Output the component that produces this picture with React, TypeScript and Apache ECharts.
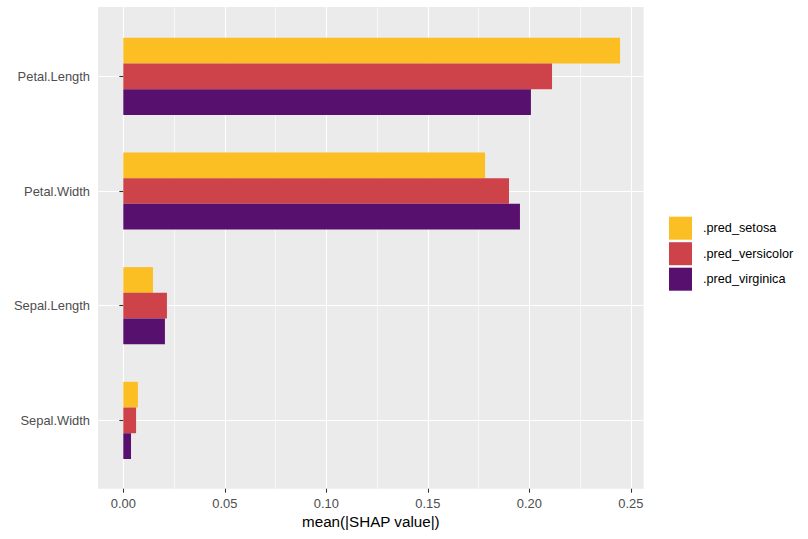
import React, { useEffect, useRef } from "react";
import * as echarts from "echarts";

const categories = ["Petal.Length", "Petal.Width", "Sepal.Length", "Sepal.Width"];
const seriesNames = [".pred_setosa", ".pred_versicolor", ".pred_virginica"];
const setosa = [0.2447, 0.1782, 0.0146, 0.0072];
const versicolor = [0.2112, 0.19, 0.0215, 0.0063];
const virginica = [0.2008, 0.1954, 0.0205, 0.0038];
const xTicks = [0, 0.05, 0.1, 0.15, 0.2, 0.25];
const colors = ["#FBBE23", "#CD4349", "#57106E"];

const FONT = "Liberation Sans, Arial, sans-serif";

export default function App() {
  const ref = useRef<HTMLDivElement>(null);
  useEffect(() => {
    document.body.style.margin = "0";
    const chart = echarts.init(ref.current!, null, { renderer: "svg" });
    const xMin = xTicks[0];
    const xMax = xTicks[xTicks.length - 1];
    const values = [setosa, versicolor, virginica];
    chart.setOption({
      animation: false,
      backgroundColor: "#FFFFFF",
      textStyle: { fontFamily: FONT },
      grid: [
        // panel background
        { left: 98, top: 7, width: 545.7, height: 481.7, show: true, backgroundColor: "#EBEBEB", borderWidth: 0 },
        // vertical gridlines + x labels
        { left: 123.3, top: 7, width: 507.5, height: 481.7 },
        // horizontal gridlines at category centres
        { left: 98, top: 76.3, width: 545.7, height: 344 },
        // bars
        { left: 123.3, top: 19, width: 507.5, height: 458.7 },
      ],
      xAxis: [
        {
          gridIndex: 0, type: "value", min: 0, max: 1,
          axisLine: { show: false }, axisTick: { show: false }, axisLabel: { show: false }, splitLine: { show: false },
          name: "mean(|SHAP value|)", nameLocation: "middle", nameGap: 25,
          nameTextStyle: { fontSize: 15.2, color: "#000000", fontFamily: FONT },
        },
        {
          gridIndex: 1, type: "value", min: xMin, max: xMax, interval: 0.05,
          axisLine: { show: false },
          axisTick: { show: true, length: 4, lineStyle: { color: "#333333", width: 1.07 } },
          axisLabel: {
            show: true, margin: 8, fontSize: 12.9, color: "#4D4D4D", fontFamily: FONT,
            formatter: (v: number) => v.toFixed(2),
          },
          splitLine: { show: true, lineStyle: { color: "#FFFFFF", width: 1.1 } },
          minorTick: { show: false, splitNumber: 2 },
          minorSplitLine: { show: true, lineStyle: { color: "#FFFFFF", width: 0.6 } },
        },
        {
          gridIndex: 2, type: "value", min: 0, max: 1, show: false,
        },
        {
          gridIndex: 3, type: "value", min: xMin, max: xMax, show: false,
        },
      ],
      yAxis: [
        { gridIndex: 0, type: "value", show: false },
        { gridIndex: 1, type: "value", show: false },
        {
          gridIndex: 2, type: "value", min: 0, max: categories.length - 1, interval: 1, inverse: true,
          axisLine: { show: false }, axisTick: { show: false }, axisLabel: { show: false },
          splitLine: { show: true, lineStyle: { color: "#FFFFFF", width: 1.1 } },
        },
        {
          gridIndex: 3, type: "category", data: categories, inverse: true, offset: 25.3,
          axisLine: { show: false },
          axisTick: { show: true, alignWithLabel: true, length: 4, lineStyle: { color: "#333333", width: 1.07 } },
          axisLabel: { show: true, margin: 8, fontSize: 12.9, color: "#4D4D4D", fontFamily: FONT },
          splitLine: { show: false },
        },
      ],
      legend: {
        orient: "vertical", left: 664, top: 211.7,
        itemWidth: 23, itemHeight: 23, itemGap: 2.5,
        icon: "rect",
        data: seriesNames,
        textStyle: { fontSize: 12.7, color: "#000000", fontFamily: FONT, padding: [0, 0, 0, 6] },
      },
      series: seriesNames.map((name, i) => ({
        name,
        type: "bar",
        xAxisIndex: 3,
        yAxisIndex: 3,
        data: values[i],
        barWidth: 25.7,
        barGap: "0%",
        itemStyle: { color: colors[i] },
        z: 5,
      })),
    });
    return () => chart.dispose();
  }, []);
  return <div ref={ref} style={{ width: 808, height: 539 }} />;
}
